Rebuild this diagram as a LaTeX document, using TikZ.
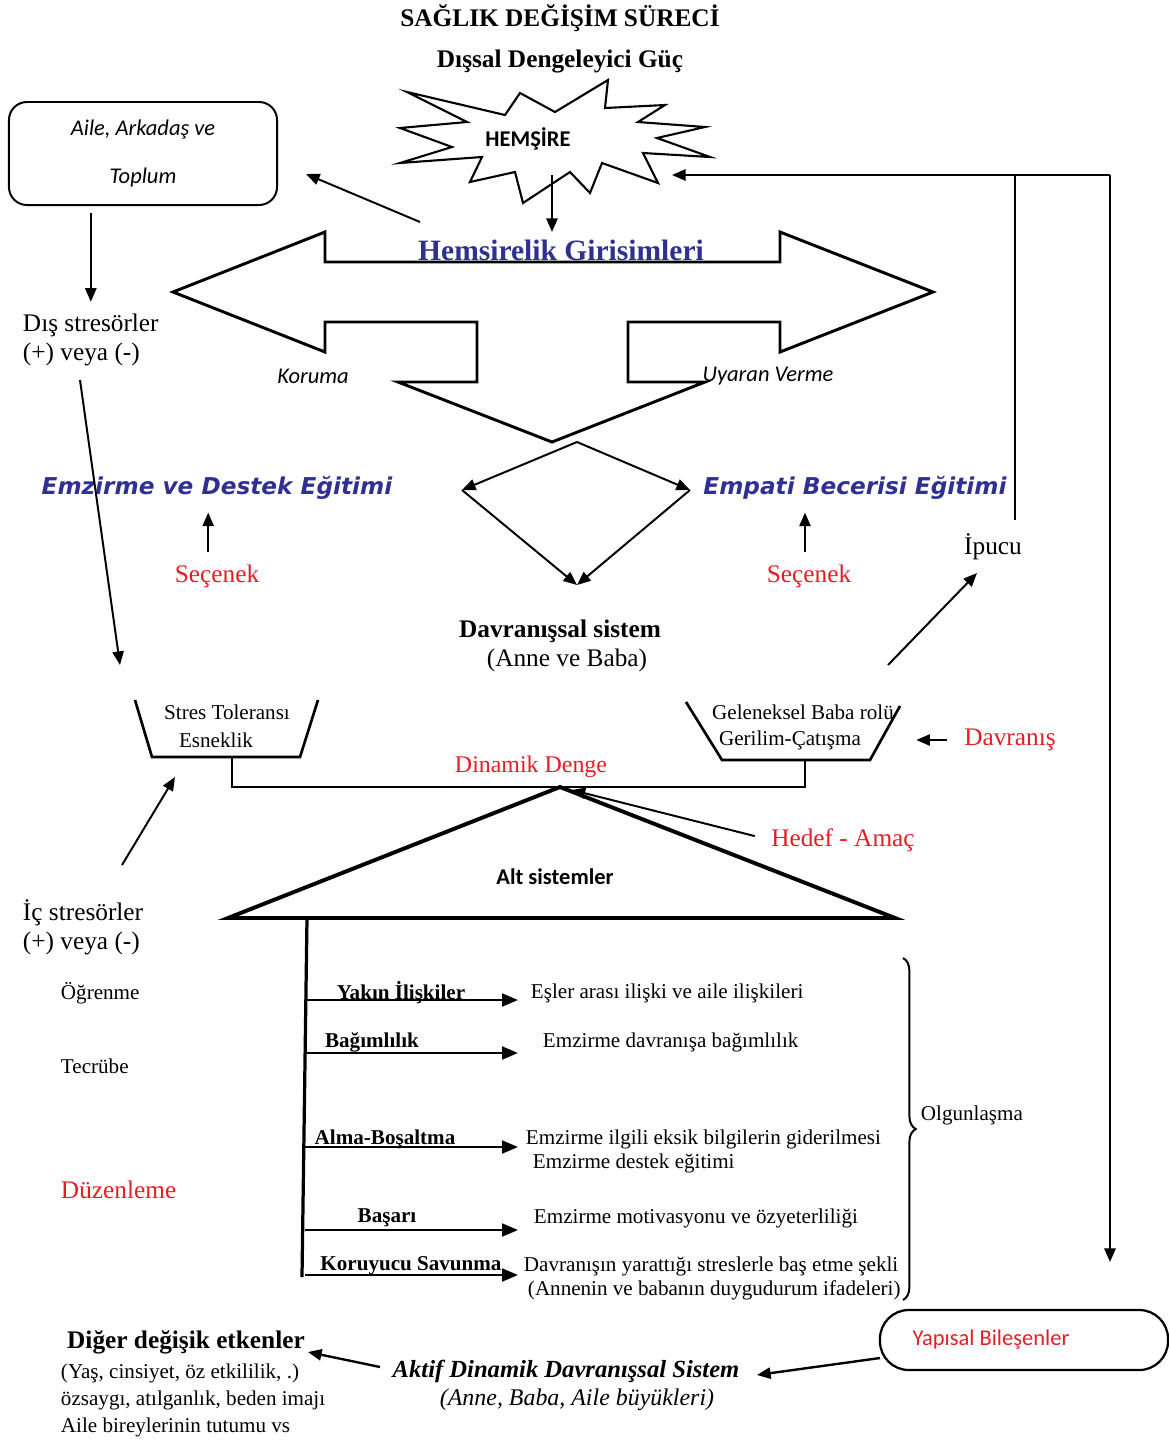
\documentclass[tikz,border=0pt]{standalone}
\usepackage{fontspec}
\setmainfont{Liberation Serif}
\newfontfamily\carlito{Carlito}
\newfontfamily\dejavu{DejaVu Sans}
\usepackage{tikz}
\usetikzlibrary{calc}
\usetikzlibrary{shapes.geometric}
\usetikzlibrary{decorations.pathreplacing,calligraphy}
\usetikzlibrary{arrows.meta}
\definecolor{girisimblue}{RGB}{46,49,146}
\definecolor{secred}{RGB}{228,30,38}

\begin{document}
\begin{tikzpicture}[x=0.025cm, y=-0.025cm, line width=1.4pt,
  >={Triangle[length=0.34cm,width=0.28cm]},
  bigtext/.style={font=\fontsize{18}{20.6}\selectfont, inner sep=0pt},
  redtext/.style={bigtext, text=secred},
  smalltext/.style={font=\fontsize{15}{19}\selectfont, inner sep=0pt},
  sublabel/.style={font=\fontsize{15}{19}\selectfont\bfseries, inner sep=0pt},
  calibriit/.style={font=\carlito\itshape\fontsize{16}{19}\selectfont, inner sep=0pt},
  calibribold/.style={font=\carlito\bfseries\fontsize{16}{19}\selectfont, inner sep=0pt},
  egitim/.style={font=\dejavu\bfseries\itshape\fontsize{16.5}{19}\selectfont, text=girisimblue, inner sep=0pt},
  subarrow/.style={->, line width=1.9pt, >={Triangle[length=0.4cm,width=0.32cm]}}]
\useasboundingbox (0,0) rectangle (1169,1443);

% titles
\node[font=\fontsize{18}{21}\selectfont\bfseries, inner sep=0pt] (baslik) at (560,18) {SAĞLIK DEĞİŞİM SÜRECİ};
\node[font=\fontsize{18}{21}\selectfont\bfseries, inner sep=0pt] (guc) at (560,62) {Dışsal Dengeleyici Güç};

% starburst
\draw[line width=1.5pt] (407,92) -- (505,115) -- (520,93) -- (555,112) -- (608,80) -- (605,108) -- (665,105) -- (638,122) -- (705,127) -- (657,138) -- (710,157) -- (643,153) -- (658,183) -- (602,163) -- (590,193) -- (570,172) -- (523,203) -- (515,172) -- (470,182) -- (482,157) -- (400,163) -- (452,147) -- (400,128) -- (467,122) -- cycle;
\node[calibribold] (hemsire) at (528,139) {HEMŞİRE};
 \coordinate (hemsireAlt) at (552,175);
 \coordinate (girisimUst) at (552,232);
   \draw[->](hemsireAlt) -- (girisimUst);

% family box
\node[draw, rounded corners=0.45cm, line width=1.4pt, minimum width=6.7cm, minimum height=2.575cm, align=center, calibriit] (aile) at (143,153.5) {Aile, Arkadaş ve\\[15pt]Toplum};

% three way arrow
\draw[line width=2.1pt] (173,292) -- (325,232) -- (325,262) -- (780,262) -- (780,232) -- (933,292) -- (780,352) -- (780,322) -- (628,322) -- (628,382) -- (705,382) -- (552,442) -- (398,382) -- (477,382) -- (477,322) -- (325,322) -- (325,352) -- cycle;
\node[font=\fontsize{21}{24}\selectfont\bfseries, text=girisimblue, inner sep=0pt] (girisim) at (561,250) {Hemsirelik Girisimleri};
  \node[calibriit] (koruma) at (313,376) {Koruma};
  \node[calibriit] (uyaran) at (768,376) {Uyaran Verme};
 \coordinate (girisimSol) at (420,222);
 \coordinate (aileSag) at (306,174);
   \draw[->](girisimSol) -- (aileSag);

% external stressors
\node[bigtext, anchor=west, align=left] (dis) at (22,340) {Dış stresörler\\(+) veya (-)};
   \draw[->, shorten <=0.18cm, shorten >=0.28cm](aile.south -| dis.north) -- (dis.north);

% diamond
\coordinate (dUst) at (577,442);
\coordinate (dSol) at (462,490);
\coordinate (dSag) at (690,490);
\coordinate (dAlt) at (577,585);
   \draw[->](dUst) -- (dSol);
   \draw[->](dUst) -- (dSag);
   \draw[->](dSol) -- (dAlt);
   \draw[->](dSag) -- (dAlt);

% education
\node[egitim] (emzirme) at (217,488) {Emzirme ve Destek Eğitimi};
\node[egitim] (empati) at (855,488) {Empati Becerisi Eğitimi};
  \node[redtext] (secenekSol) at (217,576) {Seçenek};
  \node[redtext] (secenekSag) at (809,576) {Seçenek};
     \draw[->, shorten <=0.3cm, shorten >=0.3cm]([xshift=-0.22cm]secenekSol.north) -- ([xshift=-0.22cm]secenekSol.north |- emzirme.south);
     \draw[->, shorten <=0.3cm, shorten >=0.3cm]([xshift=-0.1cm]secenekSag.north) -- ([xshift=-0.1cm]secenekSag.north |- empati.south);

% behavioural system
\node[font=\fontsize{18}{21}\selectfont\bfseries, inner sep=0pt] (davsis) at (560,631) {Davranışsal sistem};
\node[bigtext] (anneBaba) at (567,660) {(Anne ve Baba)};

\node[bigtext] (ipucu) at (993,547) {İpucu};
 \coordinate (ipucuOk1) at (888,665);
 \coordinate (ipucuOk2) at (977,573);
   \draw[->](ipucuOk1) -- (ipucuOk2);

% feedback loop
\coordinate (ipucuUst) at (1015,520);
\coordinate (kose) at (1015,175);
\coordinate (sagUst) at (1110,175);
\coordinate (hemsireSag) at (672,175);
\coordinate (yapisalUst) at (1110,1262);
   \draw[line width=1.6pt](ipucuUst) -- (kose);
   \draw[->, line width=1.6pt](sagUst) -- (hemsireSag);
   \draw[->, line width=1.6pt](sagUst) -- (yapisalUst);

% balance
\draw[line width=1.9pt] (135,700) -- (152,757) -- (300,757) -- (318,700);
\draw[line width=1.9pt] (686,702) -- (722,760) -- (870,760) -- (900,706);
\draw[line width=1.9pt] (232,757) -- (232,787) -- (805,787) -- (805,760);
  \node[smalltext] (stres) at (227,712) {Stres Toleransı};
  \node[smalltext] (esneklik) at (216,740) {Esneklik};
  \node[smalltext] (geleneksel) at (803,712) {Geleneksel Baba rolü};
  \node[smalltext] (gerilim) at (790,740) {Gerilim-Çatışma};
\node[redtext, font=\fontsize{17}{20}\selectfont] (denge) at (531,767) {Dinamik Denge};
 \coordinate (kolSol) at (120,665);
 \coordinate (disAlt) at (80,380);
   \draw[->](disAlt) -- (kolSol);

\node[redtext] (davranis) at (1010,740) {Davranış};
   \draw[->, shorten <=0.4cm](davranis.west) -- ++(-47,0);

% subsystems
\coordinate (tepe) at (560,787);
\draw[line width=2.8pt, line join=miter] (tepe) -- (228,918) -- (895,918) -- cycle;
\node[calibribold] (alt) at (555,877) {Alt sistemler};
\node[redtext] (hedef) at (843,840) {Hedef - Amaç};
   \draw[->, shorten <=0.4cm, shorten >=0.3cm](hedef.west) -- (tepe);

\node[bigtext, anchor=west, align=left] (ic) at (22,927) {İç stresörler\\(+) veya (-)};
 \coordinate (icOk1) at (122,865);
 \coordinate (icOk2) at (175,777);
   \draw[->](icOk1) -- (icOk2);
  \node[smalltext, anchor=west] (ogrenme) at (60,993) {Öğrenme};
  \node[smalltext, anchor=west] (tecrube) at (60,1066) {Tecrübe};
  \node[redtext, anchor=west] (duzenleme) at (60,1190) {Düzenleme};

\draw[line width=2.3pt] (307,918) -- (302,1277);
\foreach \y in {1000,1053,1147,1230,1275}
  \draw[subarrow] (305,\y) -- (518,\y);
  \node[sublabel] (yakin) at (401,993) {Yakın İlişkiler};
  \node[sublabel] (bagimlilik) at (372,1042) {Bağımlılık};
  \node[sublabel] (alma) at (385,1139) {Alma-Boşaltma};
  \node[sublabel] (basari) at (387,1218) {Başarı};
  \node[sublabel] (koruyucu) at (411,1266) {Koruyucu Savunma};
  \node[smalltext, anchor=west] (esler) at (530,993) {Eşler arası ilişki ve aile ilişkileri};
  \node[smalltext, anchor=west] (bagDavr) at (542,1042) {Emzirme davranışa bağımlılık};
  \node[smalltext, anchor=west] (eksik) at (525,1139) {Emzirme ilgili eksik bilgilerin giderilmesi};
  \node[smalltext, anchor=west] (destek) at (532,1163) {Emzirme destek eğitimi};
  \node[smalltext, anchor=west] (motivasyon) at (533,1218) {Emzirme motivasyonu ve özyeterliliği};
  \node[smalltext, anchor=west] (basEtme) at (523,1266) {Davranışın yarattığı streslerle baş etme şekli};
  \node[smalltext, anchor=west] (duygu) at (527,1290) {(Annenin ve babanın duygudurum ifadeleri)};

\draw[decorate, decoration={brace, amplitude=0.32cm}, line width=1.4pt] (903,958) -- (903,1300);
\node[smalltext, anchor=west] (olgun) at (920,1115) {Olgunlaşma};

% bottom row
\node[draw, line width=1.6pt, rounded corners=0.72cm, minimum width=7.2cm, minimum height=1.5cm] (yapisal) at (1024,1340) {};
\node[font=\carlito\fontsize{16}{19}\selectfont, text=secred, inner sep=0pt] (yapisalYazi) at (991,1340) {Yapısal Bileşenler};
\node[font=\fontsize{17.5}{20}\selectfont\bfseries\itshape, inner sep=0pt] (aktif) at (566,1371) {Aktif Dinamik Davranışsal Sistem};
\node[font=\fontsize{17}{20}\selectfont\itshape, inner sep=0pt] (aktifAlt) at (577,1400) {(Anne, Baba, Aile büyükleri)};
\node[font=\fontsize{18}{21}\selectfont\bfseries, inner sep=0pt] (diger) at (186,1342) {Diğer değişik etkenler};
\node[smalltext, anchor=north west, align=left] (digerAlt) at (60,1363) {(Yaş, cinsiyet, öz etkililik, .)\\özsaygı, atılganlık, beden imajı\\Aile bireylerinin tutumu vs};
 \coordinate (yapisalSol) at (880,1358);
 \coordinate (aktifSag) at (757,1375);
 \coordinate (aktifSol) at (380,1367);
 \coordinate (digerSag) at (308,1352);
   \draw[->, line width=1.7pt](yapisalSol) -- (aktifSag);
   \draw[->, line width=1.7pt](aktifSol) -- (digerSag);

\end{tikzpicture}
\end{document}
